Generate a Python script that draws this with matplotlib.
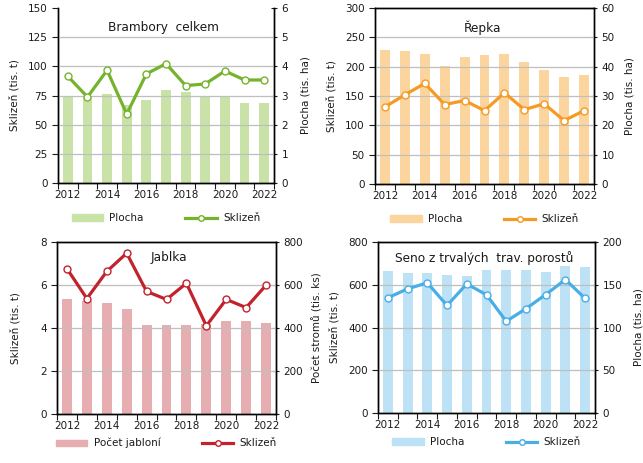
import numpy as np
import matplotlib
matplotlib.use("Agg")
import matplotlib.pyplot as plt
from matplotlib.patches import Patch
from matplotlib.lines import Line2D

plt.rcParams['font.family'] = ['DejaVu Sans']
plt.rcParams['font.size'] = 7.5

years = list(range(2012, 2023))
tick_years = ["2012", "2014", "2016", "2018", "2020", "2022"]

# Brambory celkem
brambory_sklizen = [91.5, 73.7, 96.6, 59.1, 93.5, 102.3, 83.5, 84.9, 96.0, 88.3, 88.3]
brambory_plocha = [2.97, 2.97, 3.06, 2.69, 2.83, 3.20, 3.13, 3.00, 3.00, 2.75, 2.75]

# Řepka
repka_sklizen = [131.4, 152.0, 171.4, 135.4, 142.3, 125.1, 155.4, 126.9, 136.6, 108.0, 125.1]
repka_plocha = [45.7, 45.4, 44.3, 40.2, 43.3, 44.0, 44.3, 41.6, 38.9, 36.5, 37.1]

# Jablka
jablka_sklizen = [6.76, 5.37, 6.63, 7.48, 5.70, 5.33, 6.08, 4.10, 5.33, 4.95, 5.99]
jablka_stromy = [535, 526, 518, 489, 415, 415, 415, 418, 433, 433, 424]

# Seno z trvalých trav. porostů
seno_sklizen = [539, 581, 609, 503, 604, 553, 429, 488, 554, 624, 536]
seno_plocha = [165.8, 163.5, 163.5, 161.0, 160.0, 167.0, 167.0, 167.0, 164.7, 171.6, 170.5]

W, H = 643, 463
fig = plt.figure(figsize=(W / 100, H / 100), dpi=100)
TXT = '#1a1a1a'


def px_axes(l, t, r, b):
    return fig.add_axes([l / W, 1 - b / H, (r - l) / W, (b - t) / H])


def panel(box, title, tpos, sklizen, plocha, ymax, ystep, y2max, y2step,
          bar_col, line_col, bar_label, y2label, top_spine, leg_y, pads):
    ax = px_axes(*box)
    ax2 = ax.twinx()
    x = np.arange(len(years))
    ax2.bar(x, plocha, width=0.5, color=bar_col, zorder=1)
    ax.set_zorder(ax2.get_zorder() + 1)
    ax.patch.set_visible(False)
    ax.plot(x, sklizen, color=line_col, lw=2.3, marker='o', ms=5,
            mfc='white', mec=line_col, mew=1.0, zorder=3)
    ax.set_ylim(0, ymax)
    ax2.set_ylim(0, y2max)
    ax.set_yticks(np.arange(0, ymax + ystep / 2, ystep))
    ax2.set_yticks(np.arange(0, y2max + y2step / 2, y2step))
    for v in np.arange(ystep, ymax, ystep):
        ax.axhline(v, color='#bfbfbf', lw=0.9, zorder=0)
    ax.set_xlim(-0.5, len(years) - 0.5)
    ax.set_xticks(np.arange(-0.5, len(years), 1.0))
    ax.set_xticklabels([])
    ax.set_xticks(np.arange(0, len(years), 2), minor=True)
    ax.set_xticklabels(tick_years, minor=True)
    ax.tick_params(axis='x', which='major', length=4, direction='out', color=TXT)
    ax.tick_params(axis='x', which='minor', length=0, pad=5, colors=TXT)
    ax.tick_params(axis='y', length=4, direction='out', colors=TXT)
    ax2.tick_params(axis='y', length=4, direction='inout', colors=TXT)
    for a in (ax, ax2):
        for s in a.spines.values():
            s.set_color('black')
            s.set_linewidth(1.0)
        a.spines['top'].set_visible(top_spine)
    ax.set_ylabel("Sklizeň (tis. t)", color=TXT, labelpad=pads[0])
    ax2.set_ylabel(y2label, color=TXT, labelpad=pads[1])
    ax.text(tpos[0], tpos[1], title, transform=ax.transAxes, ha='center',
            va='center', fontsize=8.7, color=TXT)
    handles = [Patch(color=bar_col),
               Line2D([], [], color=line_col, lw=2.3, marker='o', ms=4,
                      mfc='white', mec=line_col, mew=1.0)]
    ax.legend(handles, [bar_label, "Sklizeň"], loc='center',
              bbox_to_anchor=(0.5, leg_y), ncol=2, frameon=False,
              handlelength=3.0, handleheight=0.6, columnspacing=4.0,
              handletextpad=0.6, fontsize=7.5, labelcolor=TXT)
    return ax


panel((58, 8, 274, 183), "Brambory  celkem", (0.49, 0.89),
      brambory_sklizen, brambory_plocha, 150, 25, 6, 1,
      '#c9e2a8', '#76b32c', "Plocha", "Plocha (tis. ha)", False, -0.2, (6, 9))
panel((375, 8, 594, 184), "Řepka", (0.49, 0.89),
      repka_sklizen, repka_plocha, 300, 50, 60, 10,
      '#fcd59e', '#f59b25', "Plocha", "Plocha (tis. ha)", True, -0.2, (6, 7))
panel((57, 242, 276, 414), "Jablka", (0.51, 0.91),
      jablka_sklizen, jablka_stromy, 8, 2, 800, 200,
      '#e6aeb1', '#c2222c', "Počet jablon\u00ed", "Počet stromů (tis. ks)", True, -0.17,
      (14, 6))
panel((378, 242, 595, 413), "Seno z trvalých  trav. porostů", (0.49, 0.905),
      seno_sklizen, seno_plocha, 800, 200, 200, 50,
      '#bde2f6', '#4aaee6', "Plocha", "Plocha (tis. ha)", True, -0.17, (6, 8))

fig.savefig("out.png", dpi=100)
